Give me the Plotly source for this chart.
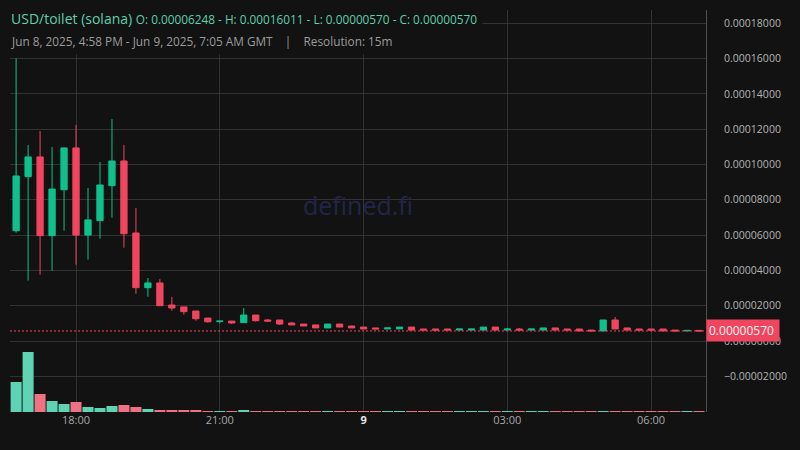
import pandas as pd
import plotly.graph_objects as go

# ---- data (prices in USD, 15m candles) ----
start_time = "2025-06-08 16:45"
n_candles = 58
opens = [6.248, 9.31, 10.43, 5.97, 8.57, 10.94, 6.00, 6.82, 8.80, 10.20,
         6.12, 3.02, 3.29, 2.04, 1.93, 1.70, 1.30, 1.10, 1.13, 1.04,
         1.47, 1.19, 1.19, 1.02, 0.96, 0.91, 0.74, 0.96, 0.85, 0.79,
         0.74, 0.68, 0.68, 0.79, 0.68, 0.68, 0.68, 0.62, 0.62, 0.62,
         0.79, 0.62, 0.68, 0.62, 0.62, 0.74, 0.68, 0.68, 0.62, 0.57,
         1.19, 0.74, 0.68, 0.68, 0.68, 0.62, 0.57, 0.60]
highs = [16.011, 11.10, 11.90, 10.99, 10.96, 12.24, 8.67, 10.14, 12.58, 11.10,
         7.54, 3.57, 3.51, 2.49, 1.93, 1.70, 1.30, 1.13, 1.13, 1.87,
         1.47, 1.25, 1.19, 1.08, 0.96, 0.91, 0.96, 0.96, 0.85, 0.79,
         0.74, 0.74, 0.79, 0.79, 0.68, 0.68, 0.68, 0.68, 0.68, 0.79,
         0.79, 0.74, 0.74, 0.68, 0.74, 0.74, 0.68, 0.68, 0.62, 1.19,
         1.36, 0.74, 0.68, 0.68, 0.68, 0.62, 0.60, 0.60]
lows = [6.14, 3.42, 3.76, 3.98, 6.25, 4.32, 4.61, 5.80, 6.99, 5.29,
        2.68, 2.51, 2.00, 1.72, 1.49, 1.15, 1.04, 1.00, 0.96, 1.04,
        1.09, 1.08, 0.91, 0.91, 0.85, 0.74, 0.74, 0.79, 0.74, 0.68,
        0.68, 0.68, 0.68, 0.62, 0.62, 0.62, 0.62, 0.62, 0.62, 0.62,
        0.62, 0.62, 0.62, 0.62, 0.62, 0.62, 0.62, 0.57, 0.57, 0.57,
        0.68, 0.62, 0.62, 0.62, 0.57, 0.57, 0.57, 0.57]
closes = [9.35, 10.43, 5.97, 8.61, 10.94, 6.00, 6.86, 8.84, 10.20, 6.08,
          3.02, 3.29, 2.00, 1.87, 1.66, 1.26, 1.09, 1.13, 1.02, 1.47,
          1.15, 1.13, 0.96, 0.91, 0.85, 0.74, 0.96, 0.79, 0.74, 0.68,
          0.68, 0.74, 0.79, 0.62, 0.62, 0.62, 0.62, 0.68, 0.68, 0.79,
          0.62, 0.68, 0.62, 0.68, 0.74, 0.62, 0.62, 0.57, 0.57, 1.19,
          0.68, 0.62, 0.62, 0.62, 0.57, 0.57, 0.60, 0.57]
volumes = [15000, 30000, 9000, 5500, 4000, 5000, 2500, 2000, 3000, 3500,
           2500, 1500, 1000, 1000, 1000, 1000, 500, 500, 500, 1000,
           500, 450, 450, 450, 450, 450, 450, 450, 450, 450,
           450, 450, 450, 450, 450, 450, 450, 450, 450, 450,
           450, 450, 450, 450, 450, 450, 450, 450, 450, 450,
           450, 450, 450, 450, 450, 450, 450, 450]
scale = 1e-5
opens = [v * scale for v in opens]
highs = [v * scale for v in highs]
lows = [v * scale for v in lows]
closes = [v * scale for v in closes]
last_price = 0.0000057

x_tick_vals = ["2025-06-08 18:00", "2025-06-08 21:00", "2025-06-09 00:00",
               "2025-06-09 03:00", "2025-06-09 06:00"]
x_tick_text = ["18:00", "21:00", "<b style='color:#e6e6e6'>9</b>", "03:00", "06:00"]
y_tick_vals = [-0.00002, 0, 0.00002, 0.00004, 0.00006, 0.00008, 0.0001,
               0.00012, 0.00014, 0.00016, 0.00018]

times = pd.date_range(start_time, periods=n_candles, freq="15min")

UP = "#0fc08d"
DOWN = "#f0455f"
UP_VOL = "#5fd3b3"
DOWN_VOL = "#ee7184"
BG = "#121212"
GRID = "#323232"

vol_colors = [UP_VOL if c >= o else DOWN_VOL for o, c in zip(opens, closes)]

fig = go.Figure()
fig.add_trace(go.Bar(
    x=times, y=volumes, yaxis="y2", marker=dict(color=vol_colors, line=dict(width=0)),
    width=0.92 * 15 * 60 * 1000, showlegend=False, hoverinfo="skip"))
fig.add_trace(go.Candlestick(
    x=times, open=opens, high=highs, low=lows, close=closes,
    increasing=dict(line=dict(color=UP, width=1), fillcolor=UP),
    decreasing=dict(line=dict(color=DOWN, width=1), fillcolor=DOWN),
    whiskerwidth=0, showlegend=False))

fig.add_shape(type="line", xref="paper", x0=0, x1=1, yref="y", y0=last_price, y1=last_price,
              line=dict(color=DOWN, width=1, dash="2px,2px"))

fig.add_annotation(xref="paper", yref="y", x=1, y=last_price, xanchor="left", yanchor="middle",
                   text="0.00000570", showarrow=False, bgcolor=DOWN, borderpad=2, width=68,
                   align="left", font=dict(color="#f4f4f4", size=12, family="Open Sans"))

fig.add_annotation(xref="paper", yref="paper", x=0.5, y=0.515, text="defined.fi", showarrow=False,
                   font=dict(color="#24244a", size=25, family="Open Sans"))

fig.add_annotation(xref="paper", yref="paper", x=0, y=0.978, xanchor="left", yanchor="middle",
                   xshift=-5, showarrow=False, bgcolor=BG, borderpad=5,
                   text="USD/toilet (solana) <span style='font-size:11.8px'>O: 0.00006248 - H: 0.00016011 - L: 0.00000570 - C: 0.00000570</span>",
                   font=dict(color="#5fcfac", size=14, family="Open Sans"))
fig.add_annotation(xref="paper", yref="paper", x=0, y=0.923, xanchor="left", yanchor="middle",
                   xshift=-5, showarrow=False, bgcolor=BG, borderpad=5,
                   text="Jun 8, 2025, 4:58 PM - Jun 9, 2025, 7:05 AM GMT &nbsp;&nbsp; | &nbsp;&nbsp; Resolution: 15m",
                   font=dict(color="#9c9c9c", size=11.8, family="Open Sans"))

fig.update_layout(
    width=800, height=450,
    margin=dict(l=10, r=94, t=10, b=38),
    paper_bgcolor=BG, plot_bgcolor=BG,
    boxgap=0.25,
    font=dict(family="Open Sans", color="#a8a8a8", size=12),
    xaxis=dict(type="date", range=["2025-06-08 16:37:20", "2025-06-09 07:08:45"],
               rangeslider=dict(visible=False), showgrid=True, gridcolor=GRID, gridwidth=1,
               tickvals=x_tick_vals, ticktext=x_tick_text, showline=False, zeroline=False,
               tickfont=dict(size=11, color="#a8a8a8")),
    yaxis=dict(side="right", range=[-0.00004023, 0.00018754], tickvals=y_tick_vals,
               tickformat=".8f", showgrid=True, gridcolor=GRID, zeroline=False,
               showline=True, linecolor="#505050", linewidth=1, ticks="",
               ticklabelstandoff=15, tickfont=dict(size=10.5, color="#b4b4b4")),
    yaxis2=dict(overlaying="y", range=[0, 201000], visible=False, showgrid=False),
    hovermode=False,
)

fig.write_html("out.html", config={"displayModeBar": False},
               post_script="document.body.style.margin='0';document.body.style.background='#121212';")
